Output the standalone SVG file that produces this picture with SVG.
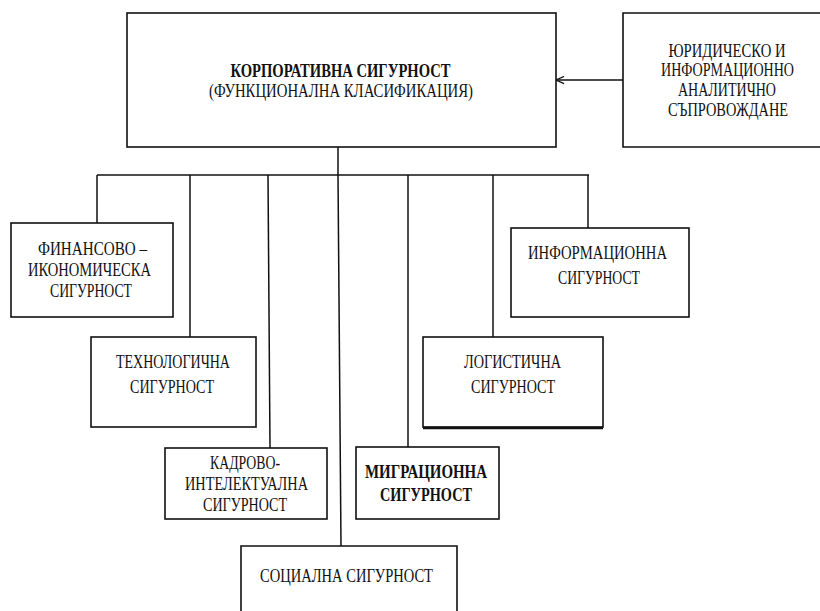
<svg xmlns="http://www.w3.org/2000/svg" width="820" height="611" viewBox="0 0 820 611">
<defs>
<style>
.box{fill:#fff;stroke:#111;stroke-width:1.6}
.ln{fill:none;stroke:#111;stroke-width:1.5}
text{font-family:"Liberation Serif","Times New Roman",serif;font-size:18px;fill:#111;text-anchor:middle}
.b{font-weight:bold}
</style>
<marker id="arr" viewBox="0 0 10 10" refX="10" refY="5" markerWidth="9" markerHeight="9" markerUnits="userSpaceOnUse" orient="auto">
<path d="M1,1 L10,5 L1,9" fill="none" stroke="#111" stroke-width="1.3"/>
</marker>
</defs>
<rect width="820" height="611" fill="#fff"/>
<g id="connectors">
<line class="ln" x1="623" y1="80" x2="556" y2="80" marker-end="url(#arr)"/>
<line class="ln" x1="338" y1="147" x2="338" y2="175"/>
<line class="ln" x1="97" y1="175" x2="589" y2="175"/>
<line class="ln" x1="97" y1="175" x2="97" y2="223"/>
<line class="ln" x1="190" y1="175" x2="190" y2="337"/>
<line class="ln" x1="268" y1="175" x2="270" y2="448"/>
<line class="ln" x1="338" y1="175" x2="341" y2="546"/>
<line class="ln" x1="408" y1="175" x2="408" y2="447"/>
<line class="ln" x1="493" y1="175" x2="493" y2="337"/>
<line class="ln" x1="588" y1="175" x2="588" y2="228"/>
</g>
<g id="corporate">
<rect class="box" x="127" y="13" width="429" height="134"/>
<text class="b" x="340.5" y="77" textLength="220" lengthAdjust="spacingAndGlyphs">КОРПОРАТИВНА СИГУРНОСТ</text>
<text x="341" y="97" textLength="264" lengthAdjust="spacingAndGlyphs">(ФУНКЦИОНАЛНА КЛАСИФИКАЦИЯ)</text>
</g>
<g id="legal">
<path class="box" d="M820,13 H623 V147 H820"/>
<text x="727" y="57" textLength="117" lengthAdjust="spacingAndGlyphs">ЮРИДИЧЕСКО И</text>
<text x="727.5" y="76" textLength="133" lengthAdjust="spacingAndGlyphs">ИНФОРМАЦИОННО</text>
<text x="727" y="96" textLength="98" lengthAdjust="spacingAndGlyphs">АНАЛИТИЧНО</text>
<text x="728" y="116" textLength="120" lengthAdjust="spacingAndGlyphs">СЪПРОВОЖДАНЕ</text>
</g>
<g id="financial">
<rect class="box" x="11" y="223" width="162" height="94"/>
<text x="92.5" y="255" textLength="109" lengthAdjust="spacingAndGlyphs">ФИНАНСОВО –</text>
<text x="89.5" y="276" textLength="123" lengthAdjust="spacingAndGlyphs">ИКОНОМИЧЕСКА</text>
<text x="91" y="297" textLength="82" lengthAdjust="spacingAndGlyphs">СИГУРНОСТ</text>
</g>
<g id="technological">
<rect class="box" x="91" y="337" width="165" height="90"/>
<text x="173" y="368" textLength="114" lengthAdjust="spacingAndGlyphs">ТЕХНОЛОГИЧНА</text>
<text x="172" y="393" textLength="84" lengthAdjust="spacingAndGlyphs">СИГУРНОСТ</text>
</g>
<g id="information">
<rect class="box" x="511" y="228" width="178" height="89"/>
<text x="597.5" y="259" textLength="139" lengthAdjust="spacingAndGlyphs">ИНФОРМАЦИОННА</text>
<text x="599" y="284" textLength="82" lengthAdjust="spacingAndGlyphs">СИГУРНОСТ</text>
</g>
<g id="logistics">
<rect class="box" x="423" y="337" width="180" height="90"/>
<line x1="423" y1="428" x2="603" y2="428" stroke="#111" stroke-width="2.5"/>
<text x="512.5" y="368" textLength="97" lengthAdjust="spacingAndGlyphs">ЛОГИСТИЧНА</text>
<text x="513" y="393" textLength="84" lengthAdjust="spacingAndGlyphs">СИГУРНОСТ</text>
</g>
<g id="personnel">
<rect class="box" x="165" y="448" width="162" height="71"/>
<text x="245" y="469" textLength="70" lengthAdjust="spacingAndGlyphs">КАДРОВО-</text>
<text x="246.5" y="490" textLength="123" lengthAdjust="spacingAndGlyphs">ИНТЕЛЕКТУАЛНА</text>
<text x="245" y="511" textLength="84" lengthAdjust="spacingAndGlyphs">СИГУРНОСТ</text>
</g>
<g id="migration">
<rect class="box" x="356" y="447" width="143" height="72"/>
<text class="b" x="426" y="478" textLength="122" lengthAdjust="spacingAndGlyphs">МИГРАЦИОННА</text>
<text class="b" x="426" y="501" textLength="92" lengthAdjust="spacingAndGlyphs">СИГУРНОСТ</text>
</g>
<g id="social">
<path class="box" d="M241,611 V546 H457 V611"/>
<text x="346.5" y="582" textLength="173" lengthAdjust="spacingAndGlyphs">СОЦИАЛНА СИГУРНОСТ</text>
</g>
</svg>
